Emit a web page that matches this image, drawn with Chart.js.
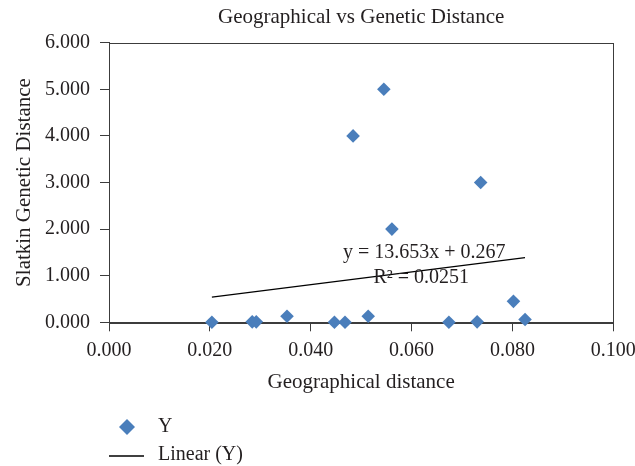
<!DOCTYPE html>
<html>
<head>
<meta charset="utf-8">
<script src="https://cdn.jsdelivr.net/npm/chart.js@4.4.1/dist/chart.umd.min.js"></script>
<style>
  html, body { margin: 0; padding: 0; background: #fff; }
  #wrap { width: 635px; height: 466px; }
</style>
</head>
<body>
<div id="wrap"><canvas id="distChart" width="635" height="466"></canvas></div>
<script>
// Data
const geoDist = [0.0204, 0.0284, 0.0292, 0.0353, 0.0447, 0.0468, 0.0484, 0.0514,
                 0.0545, 0.0561, 0.0674, 0.0730, 0.0737, 0.0802, 0.0825];
const geneticDist = [0.00, 0.01, 0.01, 0.13, 0.00, 0.00, 4.00, 0.13,
                     5.00, 2.00, 0.00, 0.01, 3.00, 0.45, 0.06];

// Linear trendline end points (as drawn)
const trendX = [0.0204, 0.0825];
const trendY = [0.54, 1.39];

const equationLines = ["y = 13.653x + 0.267", "R² = 0.0251"];
const legendLabels = ["Y", "Linear (Y)"];
const chartTitle = "Geographical vs Genetic Distance";

const serif = "'Liberation Serif', 'Times New Roman', serif";
const ink = "#231f20";
const axisColor = "#3c3c3c";
const pointColor = "#4a7ebb";

Chart.defaults.font.family = serif;
Chart.defaults.color = ink;

const points = geoDist.map((x, i) => ({ x: x, y: geneticDist[i] }));
const trend = trendX.map((x, i) => ({ x: x, y: trendY[i] }));

// frame, title, equation and legend drawn on top
const extras = {
  id: "extras",
  beforeDatasetsDraw(chart) {
    const { ctx, chartArea: ca } = chart;
    ctx.save();
    // plot frame
    ctx.strokeStyle = axisColor;
    ctx.lineWidth = 1;
    ctx.strokeRect(Math.round(ca.left) + 0.5, Math.round(ca.top) + 0.5,
      Math.round(ca.right - ca.left), Math.round(ca.bottom - ca.top));
    ctx.restore();
  },
  afterDraw(chart) {
    const { ctx, chartArea: ca, scales } = chart;
    ctx.save();

    // title
    ctx.fillStyle = ink;
    ctx.font = "21px " + serif;
    ctx.textAlign = "center";
    ctx.textBaseline = "alphabetic";
    ctx.fillText(chartTitle, (ca.left + ca.right) / 2, 23);

    // regression text
    ctx.font = "20px " + serif;
    ctx.textBaseline = "middle";
    const ex = scales.x.getPixelForValue(0.0625);
    const ey = scales.y.getPixelForValue(1.5);
    ctx.fillText(equationLines[0], ex, ey);
    ctx.fillText(equationLines[1], ex - 3, ey + 25);

    // legend
    ctx.textAlign = "left";
    const lx = 127, ly = 427;
    ctx.fillStyle = pointColor;
    ctx.beginPath();
    ctx.moveTo(lx, ly - 8);
    ctx.lineTo(lx + 8, ly);
    ctx.lineTo(lx, ly + 8);
    ctx.lineTo(lx - 8, ly);
    ctx.closePath();
    ctx.fill();
    ctx.fillStyle = ink;
    ctx.fillText(legendLabels[0], 158, ly);

    ctx.strokeStyle = "#000";
    ctx.lineWidth = 1.3;
    ctx.beginPath();
    ctx.moveTo(109, 456);
    ctx.lineTo(144, 456);
    ctx.stroke();
    ctx.fillText(legendLabels[1], 158, 455);

    ctx.restore();
  }
};

new Chart(document.getElementById("distChart"), {
  type: "scatter",
  data: {
    datasets: [
      {
        label: legendLabels[0],
        data: points,
        pointStyle: "rectRot",
        pointRadius: 6.8,
        pointHoverRadius: 6.8,
        backgroundColor: pointColor,
        borderWidth: 0,
        clip: false
      },
      {
        label: legendLabels[1],
        type: "line",
        data: trend,
        borderColor: "#000",
        borderWidth: 1.3,
        pointRadius: 0,
        fill: false,
        tension: 0
      }
    ]
  },
  options: {
    responsive: false,
    animation: false,
    layout: { padding: { top: 42.7, right: 21.7, bottom: 71.4, left: 0 } },
    plugins: {
      legend: { display: false },
      title: { display: false },
      tooltip: { enabled: false }
    },
    scales: {
      x: {
        type: "linear",
        min: 0,
        max: 0.1,
        ticks: {
          stepSize: 0.02,
          color: ink,
          padding: 7,
          font: { size: 20 },
          callback: (v) => v.toFixed(3)
        },
        grid: { drawOnChartArea: false, tickLength: 9, color: axisColor },
        border: { display: true, color: axisColor },
        title: {
          display: true,
          text: "Geographical distance",
          color: ink,
          font: { size: 21 },
          padding: { top: 0, bottom: 0 }
        },
        afterFit: (scale) => {
          scale.height = 72.3;
          scale.paddingRight = 0;
        }
      },
      y: {
        type: "linear",
        min: 0,
        max: 6,
        ticks: {
          stepSize: 1,
          color: ink,
          padding: 10,
          font: { size: 20 },
          callback: (v) => v.toFixed(3)
        },
        grid: { drawOnChartArea: false, tickLength: 9, color: axisColor },
        border: { display: true, color: axisColor },
        title: {
          display: true,
          text: "Slatkin Genetic Distance",
          color: ink,
          font: { size: 21 },
          padding: { top: 11.4, bottom: 0 }
        },
        afterFit: (scale) => {
          scale.width = 109;
        }
      }
    }
  },
  plugins: [extras]
});
</script>
</body>
</html>
